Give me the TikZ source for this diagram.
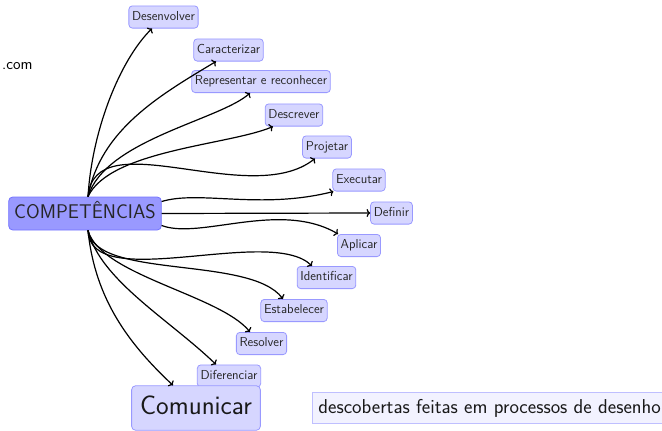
\documentclass[tikz,border=0pt]{standalone}
\usepackage{fontspec}
\usetikzlibrary{arrows.meta}
\begin{document}
\begin{tikzpicture}[x=1pt,y=-1pt,
  every node/.style={font=\sffamily},
  leaf/.style={draw=blue!40, fill=blue!16, rounded corners=3.5pt, line width=0.8pt,
     font=\sffamily\fontsize{13}{15}\selectfont, text height=9pt, text depth=2.6pt,
     inner xsep=3.2pt, inner ysep=5.3pt, text=black!85},
  root/.style={draw=blue!55, fill=blue!40, rounded corners=4pt, line width=0.8pt,
     font=\sffamily\fontsize{19.8}{22}\selectfont, text height=14pt, text depth=4pt,
     inner xsep=5.5pt, inner ysep=7.5pt, text=black!85},
  big/.style={draw=blue!40, fill=blue!16, rounded corners=4pt, line width=0.8pt,
     font=\sffamily\fontsize{26.8}{30}\selectfont, text height=19pt, text depth=5.5pt,
     inner xsep=8.5pt, inner ysep=10pt, text=black!90},
  note/.style={draw=blue!25, fill=blue!5, line width=0.8pt,
     font=\sffamily\fontsize{20.1}{23}\selectfont, text height=14pt, text depth=3.5pt,
     inner xsep=6pt, inner ysep=7pt, text=black!90},
  arr/.style={-{To[length=3.6pt,width=8pt]}, line width=1.2pt, black}]
\useasboundingbox (0,0) rectangle (662,431);

\node[root] (comp) at (85,213.5) {COMPETÊNCIAS};
\node[font=\sffamily\fontsize{16}{18}\selectfont, inner sep=0pt, anchor=west] (com) at (2,66) {.com};

\node[leaf] (dsv) at (163.5,17) {Desenvolver};
\node[leaf] (car) at (228.5,50) {Caracterizar};
\node[leaf] (rep) at (261,81.5) {Representar e reconhecer};
\node[leaf] (dsc) at (294,115) {Descrever};
\node[leaf] (prj) at (327,147) {Projetar};
\node[leaf] (exe) at (359,180) {Executar};
\node[leaf] (def) at (391.5,213) {Definir};
\node[leaf] (apl) at (359,245.5) {Aplicar};
\node[leaf] (idf) at (326.5,277.5) {Identificar};
\node[leaf] (est) at (294,310.5) {Estabelecer};
\node[leaf] (res) at (261.5,343.5) {Resolver};
\node[leaf] (dif) at (229,376) {Diferenciar};
\node[big] (comu) at (196,408) {Comunicar};
\node[note, anchor=west] (desc) at (312,408) {descobertas feitas em processos de desenho};

\coordinate (N) at ([xshift=3pt]comp.north);
\coordinate (S) at ([xshift=3pt]comp.south);

\draw[arr] (N) .. controls (92,130) and (120,60) .. ([xshift=-11.5pt]dsv.south);
\draw[arr] (N) .. controls (100,130) and (160,95) .. ([xshift=-12.5pt]car.south);
\draw[arr] (N) .. controls (105,140) and (220,120) .. ([xshift=-11pt]rep.south);
\draw[arr] (N) .. controls (110,150) and (230,145) .. ([xshift=-21pt]dsc.south);
\draw[arr] (N) .. controls (95,120) and (250,210) .. ([xshift=-12pt]prj.south);
\draw[arr] ([yshift=12pt]comp.east) .. controls (200,190) and (260,210) .. ([xshift=1pt]exe.south west);
\draw[arr] (comp.east) -- (def.west);
\draw[arr] ([yshift=-12pt]comp.east) .. controls (200,240) and (280,200) .. ([xshift=1pt]apl.north west);
\draw[arr] (S) .. controls (90,295) and (270,225) .. ([xshift=-14.5pt]idf.north);
\draw[arr] (S) .. controls (95,280) and (250,255) .. ([xshift=-11pt]est.north);
\draw[arr] (S) .. controls (100,275) and (220,295) .. ([xshift=-11.5pt]res.north);
\draw[arr] (S) .. controls (100,280) and (170,320) .. ([xshift=-13pt]dif.north);
\draw[arr] (S) .. controls (95,300) and (130,345) .. ([xshift=-23pt]comu.north);
\end{tikzpicture}
\end{document}
